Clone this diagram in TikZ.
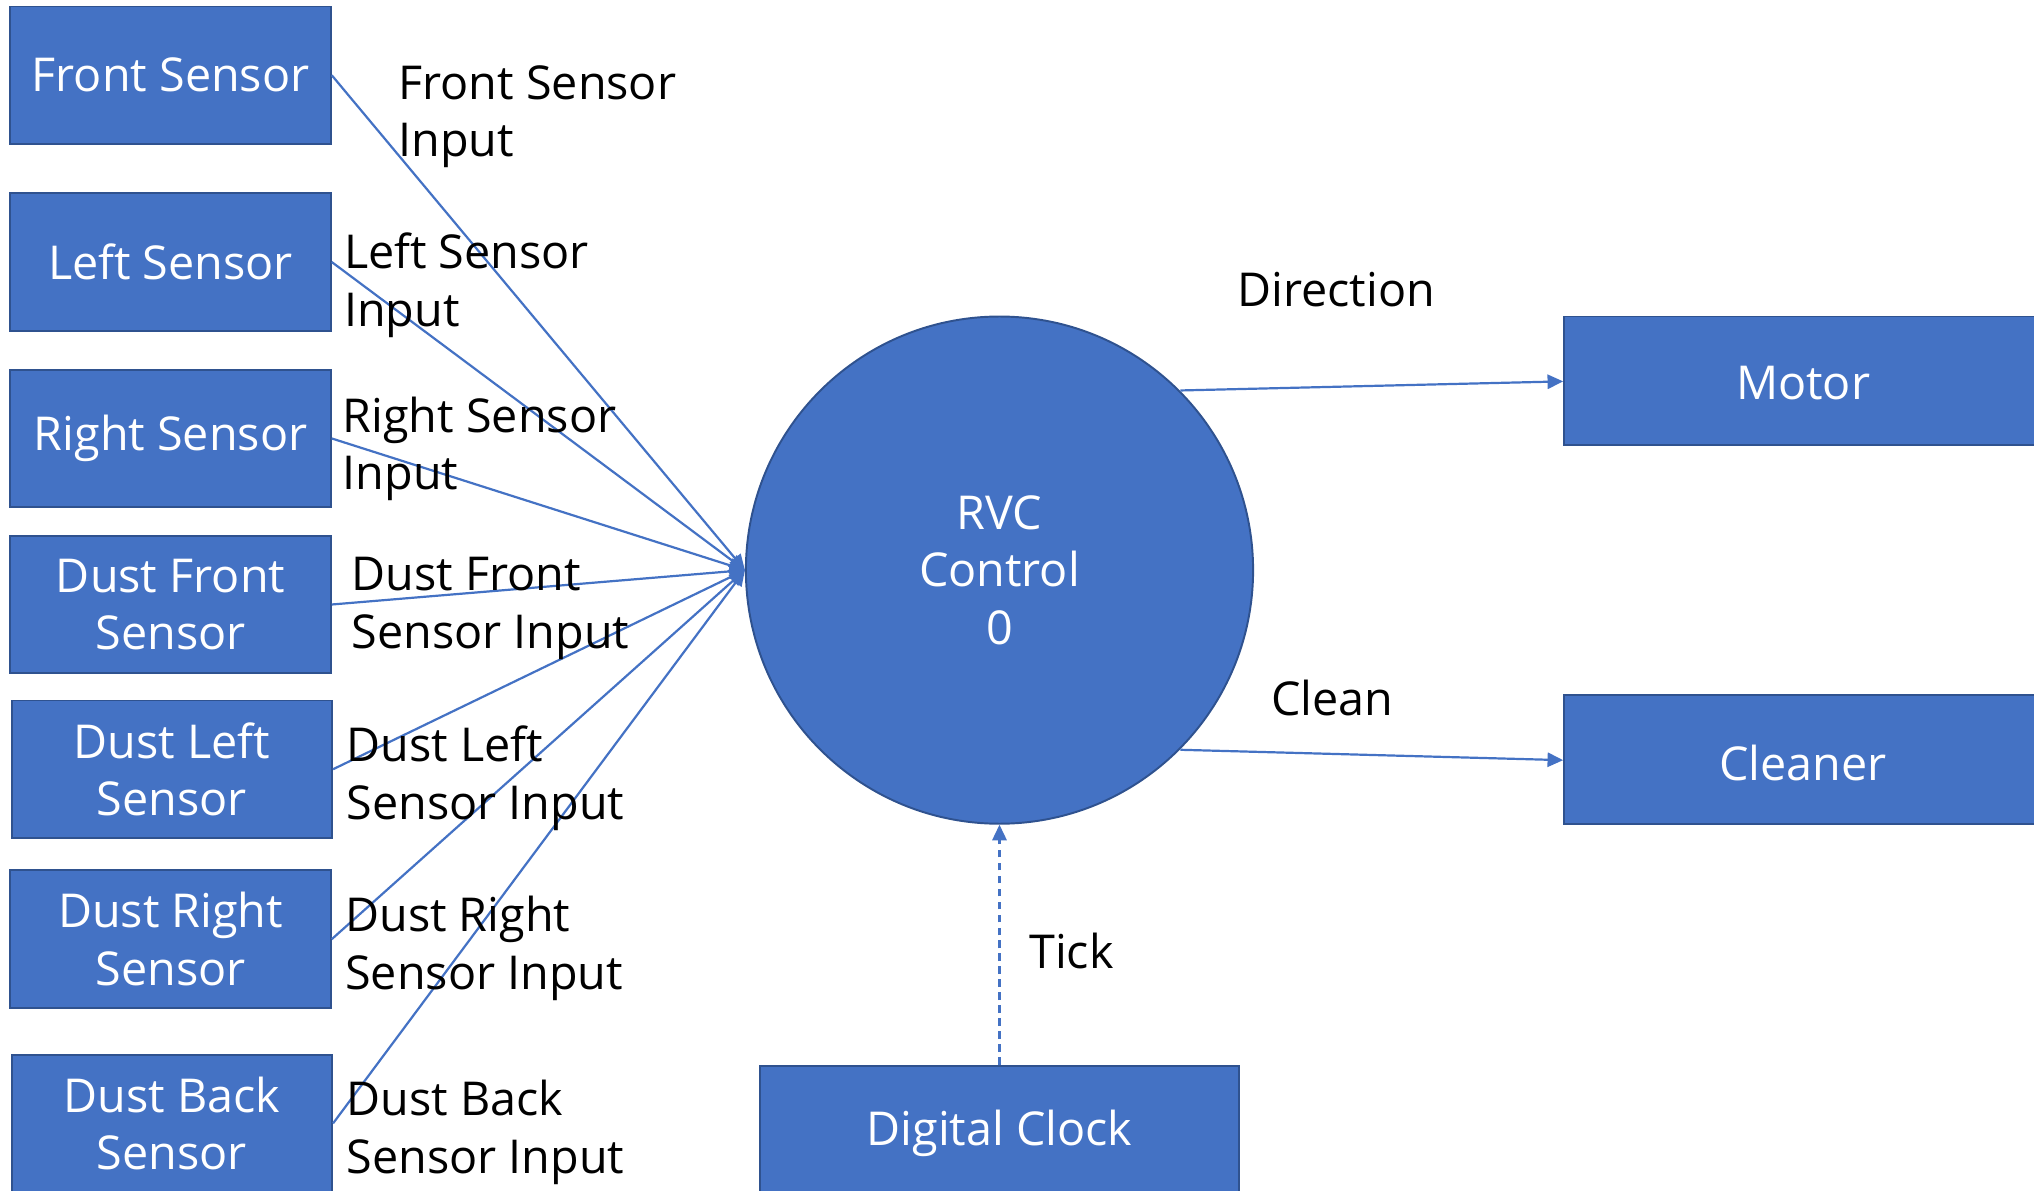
\documentclass[tikz,border=0pt]{standalone}
\usepackage{fontspec}
\setmainfont{Open Sans}
\usetikzlibrary{arrows.meta}
\definecolor{boxfill}{HTML}{4472C4}
\definecolor{boxline}{HTML}{2F528F}
\tikzset{
  blk/.style={draw=boxline, line width=1.5pt, fill=boxfill, text=white, align=center, inner sep=0pt, font=\fontsize{36}{44.5}\selectfont},
  lbl/.style={text=black, align=left, inner sep=0pt, anchor=west, font=\fontsize{36}{44.5}\selectfont},
  flow/.style={draw=boxfill, line width=1.7pt, -{Triangle[length=12pt,width=11pt]}},
}
\begin{document}
\begin{tikzpicture}[x=1pt,y=-1pt]
\useasboundingbox (0,0) rectangle (1568,918);
\begin{scope}
\clip (0,0) rectangle (1568,918);
% left sensors
\node[blk, minimum width=247pt, minimum height=106pt] (fs) at (131.5,58) {Front Sensor};
\node[blk, minimum width=247pt, minimum height=106pt] (ls) at (131.5,202) {Left Sensor};
\node[blk, minimum width=247pt, minimum height=106pt] (rs) at (131.5,338) {Right Sensor};
\node[blk, minimum width=247pt, minimum height=106pt] (dfs) at (131.5,466) {Dust Front\\Sensor};
\node[blk, minimum width=247pt, minimum height=106pt] (dls) at (132.5,593) {Dust Left\\Sensor};
\node[blk, minimum width=247pt, minimum height=106pt] (drs) at (131.5,724) {Dust Right\\Sensor};
\node[blk, minimum width=247pt, minimum height=106pt] (dbs) at (132.5,866) {Dust Back\\Sensor};
% center process
\node[blk, circle, minimum size=391pt] (rvc) at (770.5,439.5) {RVC\\Control\\0};
% outputs
\node[blk, minimum width=400pt, minimum height=99pt, anchor=west] (motor) at (1205,293.5) {};
\node[text=white, font=\fontsize{36}{44.5}\selectfont, inner sep=0pt] (motort) at (1390,295) {Motor};
\node[blk, minimum width=400pt, minimum height=99pt, anchor=west] (cleaner) at (1205,585.5) {};
\node[text=white, font=\fontsize{36}{44.5}\selectfont, inner sep=0pt] (cleanert) at (1390,588) {Cleaner};
\node[blk, minimum width=369pt, minimum height=110pt, anchor=north] (clock) at (770.5,821) {};
\node[text=white, font=\fontsize{36}{44.5}\selectfont, inner sep=0pt] (clockt) at (770.5,874) {Digital Clock};
\coordinate (hub) at (rvc.west);
% connectors
\draw[flow] (fs.east) -- (hub);
\draw[flow] (ls.east) -- (hub);
\draw[flow] (rs.east) -- (hub);
\draw[flow] (dfs.east) -- (hub);
\draw[flow] (dls.east) -- (hub);
\draw[flow] (drs.east) -- (hub);
\draw[flow] (dbs.east) -- (hub);
\coordinate (dirS) at (910,301);
\coordinate (clnS) at (910,578);
\draw[flow] (dirS) -- (motor.west |- 0,294);
\draw[flow] (clnS) -- (cleaner.west |- 0,586);
\draw[flow, dashed, dash pattern=on 6pt off 4pt] (clock.north) -- (rvc.south);
% labels
\node[lbl] (l1) at (307,90) {Front Sensor\\Input};
\node[lbl] (l2) at (265,220) {Left Sensor\\Input};
\node[lbl] (l3) at (264,346) {Right Sensor\\Input};
\node[lbl] (l4) at (271,469) {Dust Front\\Sensor Input};
\node[lbl] (l5) at (267,600) {Dust Left\\Sensor Input};
\node[lbl] (l6) at (266,731) {Dust Right\\Sensor Input};
\node[lbl] (l7) at (267,873) {Dust Back\\Sensor Input};
\node[lbl, anchor=center] (dirl) at (1030,223) {Direction};
\node[lbl, anchor=center] (clnl) at (1027,538) {Clean};
\node[lbl, anchor=center] (tickl) at (826,733) {Tick};
\end{scope}
\end{tikzpicture}
\end{document}
